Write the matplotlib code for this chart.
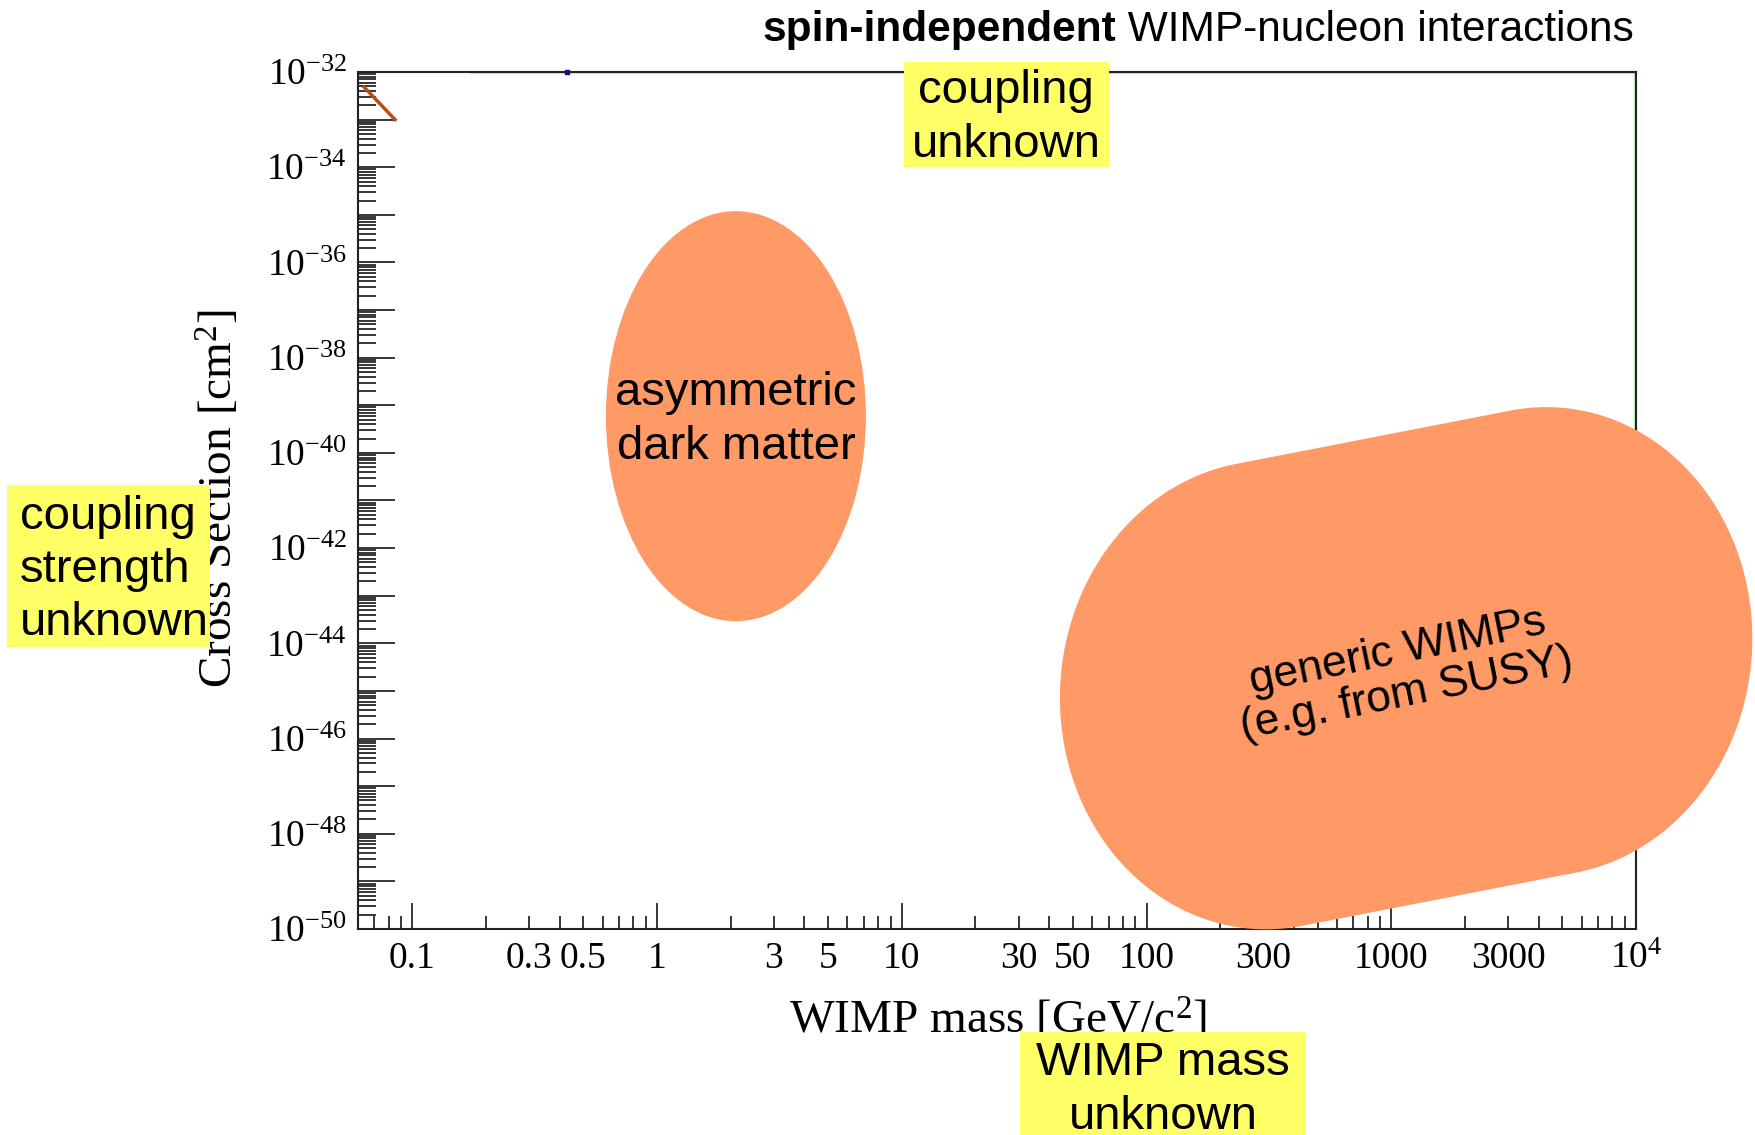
import numpy as np
import matplotlib
matplotlib.use('Agg')
import matplotlib.pyplot as plt
from matplotlib.patches import Ellipse, Polygon, Rectangle
from matplotlib.transforms import IdentityTransform
from matplotlib.ticker import FixedLocator, FuncFormatter, NullFormatter

plt.rcParams['font.family'] = ['Liberation Serif', 'DejaVu Serif']
plt.rcParams['mathtext.fontset'] = 'custom'
plt.rcParams['mathtext.rm'] = 'Liberation Serif'
plt.rcParams['mathtext.it'] = 'Liberation Serif:italic'

# axis ranges
mass_range = [0.06, 1e4]
xsec_range = [1e-50, 1e-32]

# x tick labels
mass_major = [0.1, 1, 10, 100, 1000, 10000]
mass_major_labels = ['0.1', '1', '10', '100', '1000', r'$10^{4}$']
mass_minor_labeled = [0.3, 0.5, 3, 5, 30, 50, 300, 3000]
mass_minor_labels = ['0.3', '0.5', '3', '5', '30', '50', '300', '3000']

# y ticks: every decade, labels every second one
xsec_exponents = list(range(-50, -31))

# limit curves poking in at the frame
brown_mass = [0.0636, 0.085]
brown_xsec = [4.8e-33, 1e-33]
green_mass = [0.175, 1e4, 1e4]
green_xsec = [1e-32, 1e-32, 1e-44]
blue_mass = [0.43]
blue_xsec = [1e-32]

# regions (centre in mass / cross section)
adm_center = (2.1, 5.9e-40)
wimp_center = (1150, 3.0e-45)

orange = '#ff9966'
yellow = '#ffff66'
W, H = 1755, 1135

fig = plt.figure(figsize=(17.55, 11.35), dpi=100)
ax = fig.add_axes([358 / W, 1 - 929 / H, 1278 / W, 857 / H])

ax.set_xscale('log')
ax.set_yscale('log')
ax.set_xlim(mass_range)
ax.set_ylim(xsec_range)

ax.plot(green_mass, green_xsec, color='#b8f0b8', lw=3, zorder=1)
ax.plot(brown_mass, brown_xsec, color='#b4501e', lw=2.5, zorder=2)
ax.plot(blue_mass, blue_xsec, 's', color='#0000cc', ms=3, zorder=2, clip_on=False)

# x axis ticks
minor_x = [m * 10.0 ** e for e in range(-2, 4) for m in range(2, 10)]
minor_x = [v for v in minor_x if mass_range[0] <= v <= mass_range[1]]
ax.xaxis.set_major_locator(FixedLocator(mass_major))
ax.xaxis.set_minor_locator(FixedLocator(minor_x))
ax.xaxis.set_major_formatter(FuncFormatter(
    lambda v, p: mass_major_labels[mass_major.index(v)] if v in mass_major else ''))

def minor_label(v, p):
    for val, lab in zip(mass_minor_labeled, mass_minor_labels):
        if abs(v - val) / val < 1e-6:
            return lab
    return ''

ax.xaxis.set_minor_formatter(FuncFormatter(minor_label))

# y axis ticks
major_y = [10.0 ** e for e in xsec_exponents]
minor_y = [m * 10.0 ** e for e in xsec_exponents[:-1] for m in range(2, 10)]
ax.yaxis.set_major_locator(FixedLocator(major_y))
ax.yaxis.set_minor_locator(FixedLocator(minor_y))
ax.yaxis.set_major_formatter(FuncFormatter(
    lambda v, p: r'$10^{%d}$' % round(np.log10(v)) if round(np.log10(v)) % 2 == 0 else ''))
ax.yaxis.set_minor_formatter(NullFormatter())

ax.tick_params(axis='x', which='both', direction='in', width=1.1, labelsize=27, pad=9)
ax.tick_params(axis='x', which='major', length=18.5)
ax.tick_params(axis='x', which='minor', length=9.5)
ax.tick_params(axis='y', which='major', direction='in', length=26.5, width=1.1,
               labelsize=27, pad=8)
ax.tick_params(axis='y', which='minor', direction='in', length=13, width=1.1)
for sp in ax.spines.values():
    sp.set_linewidth(1.5)
    sp.set_color('#222222')

# axis labels
fig.text(998 / W, 1 - 1020 / H, r'WIMP mass [GeV/c$^{2}$]', fontsize=34,
         ha='center', va='center', zorder=2)
fig.text(219 / W, 1 - 499 / H, r'Cross Section [cm$^{2}$]', fontsize=34,
         rotation=90, ha='center', va='center', zorder=2)

# asymmetric dark matter region
cx, cy = ax.transData.transform(adm_center)
fig.add_artist(Ellipse((cx, cy), 260, 410, facecolor=orange, edgecolor='none',
                       transform=IdentityTransform(), zorder=4))
fig.text(cx / W, (cy - 4) / H, 'asymmetric\ndark matter', family='Liberation Sans',
         fontsize=34, ha='center', va='center', linespacing=1.3, zorder=6)

# generic WIMP region: tilted capsule with slightly oval caps
wx, wy = ax.transData.transform(wimp_center)
half_len, cap, half_w, shear, ang = 140, 210, 233, 0.05, np.radians(11)
phi_r = np.linspace(np.pi / 2, -np.pi / 2, 200)
phi_l = np.linspace(-np.pi / 2, -3 * np.pi / 2, 200)
s = np.concatenate([half_len + cap * np.cos(phi_r), -half_len + cap * np.cos(phi_l)])
u = np.concatenate([half_w * np.sin(phi_r), half_w * np.sin(phi_l)])
s = s + shear * u
px = wx + s * np.cos(ang) - u * np.sin(ang)
py = wy + s * np.sin(ang) + u * np.cos(ang)
fig.add_artist(Polygon(np.column_stack([px, py]), closed=True, facecolor=orange,
                       edgecolor='none', transform=IdentityTransform(), zorder=4))
fig.text((wx - 4) / W, (wy - 5) / H, 'generic WIMPs\n(e.g. from SUSY)',
         family='Liberation Sans', fontsize=32, ha='center', va='center',
         rotation=11.5, rotation_mode='anchor', linespacing=1.05, zorder=6)

# yellow notes (boxes in figure pixels: x0, y0_top, x1, y1_bottom)
notes = [
    ('coupling\nunknown', (904, 62, 1109, 167), 'center'),
    ('coupling\nstrength\nunknown', (7, 485, 210, 647), 'left'),
    ('WIMP mass\nunknown', (1020, 1032, 1306, 1140), 'center'),
]
text_pos = [(1006, 118), (20, 570), (1163, 1090)]
for (label, (x0, y0, x1, y1), al), (tx, ty) in zip(notes, text_pos):
    fig.add_artist(Rectangle((x0, H - y1), x1 - x0, y1 - y0, facecolor=yellow,
                             edgecolor='none', transform=IdentityTransform(), zorder=7))
    fig.text(tx / W, 1 - ty / H, label, family='Liberation Sans', fontsize=34,
             ha=al, va='center', multialignment=al, linespacing=1.27, zorder=8)

# title: bold part + regular part, right aligned to the frame
renderer = fig.canvas.get_renderer()
t2 = fig.text(1634 / W, 1 - 30 / H, ' WIMP-nucleon interactions',
              family='Liberation Sans', fontsize=30.5, ha='right', va='center')
x0 = t2.get_window_extent(renderer).x0
fig.text(x0 / W, 1 - 30 / H, 'spin-independent', family='Liberation Sans',
         fontweight='bold', fontsize=30.5, ha='right', va='center')

fig.savefig('out.png', dpi=100)
